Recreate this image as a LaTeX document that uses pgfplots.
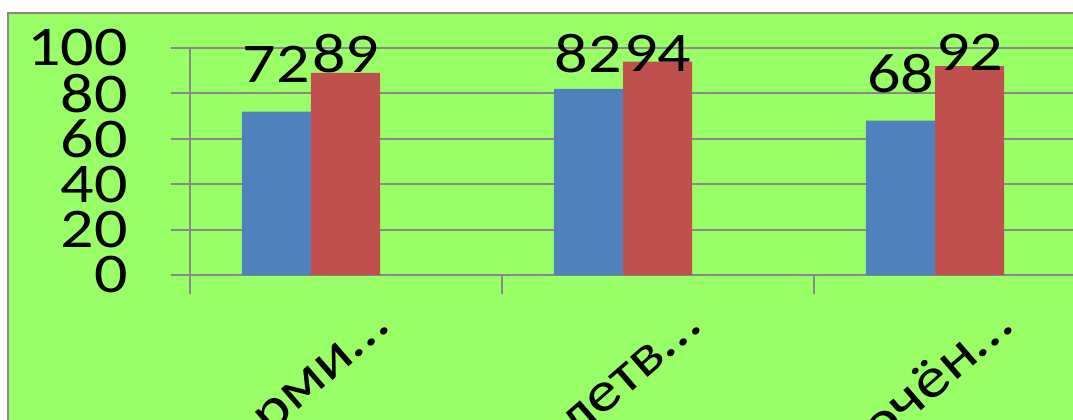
\documentclass[border=0pt]{standalone}
\usepackage{fontspec}
\setmainfont{Carlito}[FakeStretch=1.18]
\usepackage{pgfplots}
\pgfplotsset{compat=1.18}
\definecolor{bg}{HTML}{99FF66}
\definecolor{gridc}{HTML}{888888}
\definecolor{b1}{HTML}{4F81BD}
\definecolor{r1}{HTML}{C0504D}
\pgfplotstableread{
x y lab
0.2772 92.9 72
0.4984 97.6 89
1.2772 97.6 82
1.4984 97.6 94
2.2772 88.8 68
2.4984 98.0 92
}\labtable
\begin{document}
\begin{tikzpicture}
\fill[bg, draw=gridc, line width=1.5pt] (-136.5pt,196.5pt) rectangle (720pt,-140pt);
\begin{axis}[
  scale only axis, width=669.24pt, height=170.25pt,
  xmin=0, xmax=2.86, ymin=0, ymax=100,
  axis lines*=left,
  axis line style={gridc, line width=1.5pt},
  ymajorgrids, grid style={gridc, line width=1.5pt},
  ytick={0,20,...,100},
  xtick={0,1,2,3},
  xticklabels={Сформи…,Удовлетв…,Сосредоточён…,{}},
  tick align=outside,
  major tick length=14pt,
  tick style={gridc, line width=1.5pt},
  /pgf/number format/assume math mode=true,
  tick label style={font=\fontsize{42}{44}\selectfont},
  yticklabel style={anchor=east, inner sep=0pt, xshift=-32.5pt},
  xticklabel style={inner sep=0pt, anchor=base east, xshift=151pt, yshift=-27pt, rotate=41},
  clip=false,
]
\addplot[ybar, bar width=0.2212, bar shift=0pt, fill=b1, draw=none] coordinates {(0.2772,72) (1.2772,82) (2.2772,68)};
\addplot[ybar, bar width=0.2212, bar shift=0pt, fill=r1, draw=none] coordinates {(0.4984,89) (1.4984,94) (2.4984,92)};
\addplot[only marks, mark=*, mark size=0pt, mark options={opacity=0, draw=none, fill=none},
  nodes near coords, point meta=explicit symbolic,
  nodes near coords style={anchor=center, inner sep=0pt, opacity=1, font=\fontsize{42}{44}\selectfont, text=black}]
  table[x=x, y=y, meta=lab] {\labtable};
\end{axis}
\pgfresetboundingbox
\useasboundingbox (-142.5pt,-108pt) rectangle (662.25pt,206.25pt);
\end{tikzpicture}
\end{document}
